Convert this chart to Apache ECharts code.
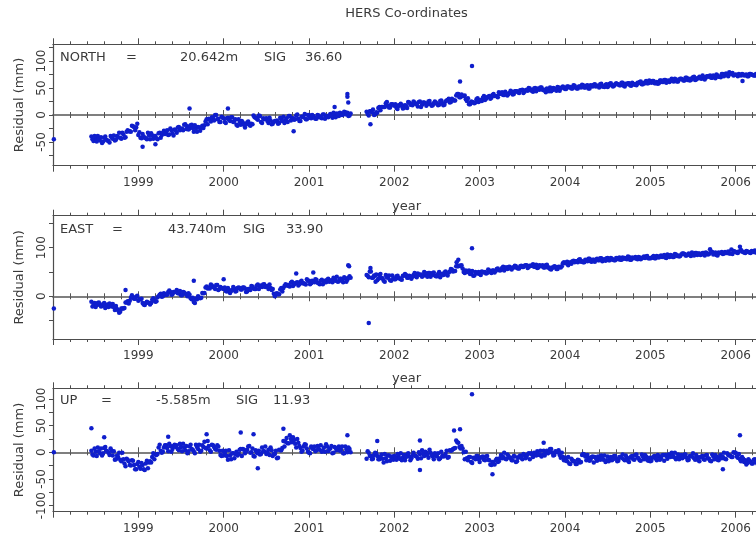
<!DOCTYPE html>
<html><head><meta charset="utf-8">
<script src="https://cdn.jsdelivr.net/npm/echarts@6/dist/echarts.min.js"></script>
<style>html,body{margin:0;padding:0;background:#fff}#c{width:756px;height:535px}</style>
</head><body><div id="c"></div>
<script>
// Observation epochs (decimal year), first set
const dates = [
 1998.450,1998.475,1998.500,1998.525,1998.550,1998.575,1998.600,1998.625,1998.650,1998.675,1998.700,1998.725,1998.750,1998.775,1998.800,1998.825,1998.850,1998.875,1998.900,1998.925,1998.950,1998.975,
 1999.000,1999.025,1999.050,1999.075,1999.100,1999.125,1999.150,1999.175,1999.200,1999.225,1999.250,1999.275,1999.300,1999.325,1999.350,1999.375,1999.400,1999.425,1999.450,1999.475,1999.500,1999.525,1999.550,1999.575,1999.600,1999.625,1999.650,1999.675,1999.700,1999.725,1999.750,1999.775,1999.800,1999.825,1999.850,1999.875,1999.900,1999.925,1999.950,1999.975,
 2000.000,2000.025,2000.050,2000.075,2000.100,2000.125,2000.150,2000.175,2000.200,2000.225,2000.250,2000.275,2000.300,2000.325,2000.350,2000.375,2000.400,2000.425,2000.450,2000.475,2000.500,2000.525,2000.550,2000.575,2000.600,2000.625,2000.650,2000.675,2000.700,2000.725,2000.750,2000.775,2000.800,2000.825,2000.850,2000.875,2000.900,2000.925,2000.950,2000.975,
 2001.000,2001.025,2001.050,2001.075,2001.100,2001.125,2001.150,2001.175,2001.200,2001.225,2001.250,2001.275,2001.300,2001.325,2001.350,2001.375,2001.400,2001.425,2001.450,2001.475,
 2001.675,2001.700,2001.725,2001.750,2001.775,2001.800,2001.825,2001.850,2001.875,2001.900,2001.925,2001.950,2001.975,
 2002.000,2002.025,2002.050,2002.075,2002.100,2002.125,2002.150,2002.175,2002.200,2002.225,2002.250,2002.275,2002.300,2002.325,2002.350,2002.375,2002.400,2002.425,2002.450,2002.475,2002.500,2002.525,2002.550,2002.575,2002.600,2002.625,2002.650,2002.675,2002.700,2002.725,2002.750,2002.775,2002.800,2002.825,2002.850,2002.875,2002.900,2002.925,2002.950,2002.975,
 2003.000,2003.025,2003.050,2003.075,2003.100,2003.125,2003.150,2003.175,2003.200,2003.225,2003.250,2003.275,2003.300,2003.325,2003.350,2003.375,2003.400,2003.425,2003.450,2003.475,2003.500,2003.525,2003.550,2003.575,2003.600,2003.625,2003.650,2003.675,2003.700,2003.725,2003.750,2003.775,2003.800,2003.825,2003.850,2003.875,2003.900,2003.925,2003.950,2003.975,
 2004.000,2004.025,2004.050,2004.075,2004.100,2004.125,2004.150,2004.175,2004.200,2004.225,2004.250,2004.275,2004.300,2004.325,2004.350,2004.375,2004.400,2004.425,2004.450,2004.475,2004.500,2004.525,2004.550,2004.575,2004.600,2004.625,2004.650,2004.675,2004.700,2004.725,2004.750,2004.775,2004.800,2004.825,2004.850,2004.875,2004.900,2004.925,2004.950,2004.975,
 2005.000,2005.025,2005.050,2005.075,2005.100,2005.125,2005.150,2005.175,2005.200,2005.225,2005.250,2005.275,2005.300,2005.325,2005.350,2005.375,2005.400,2005.425,2005.450,2005.475,2005.500,2005.525,2005.550,2005.575,2005.600,2005.625,2005.650,2005.675,2005.700,2005.725,2005.750,2005.775,2005.800,2005.825,2005.850,2005.875,2005.900,2005.925,2005.950,2005.975,
 2006.000,2006.025,2006.050,2006.075,2006.100,2006.125,2006.150,2006.175,2006.200,2006.225,2006.250,2006.275,2006.300,2006.325,2006.350
];
// Observation epochs, second (interleaved) set
const dates2 = [
 1998.4625,1998.4875,1998.5125,1998.5375,1998.5625,1998.5875,1998.6125,1998.6375,1998.6625,1998.6875,1998.7125,1998.7375,1998.7625,1998.7875,1998.8125,1998.8375,1998.8625,1998.8875,1998.9125,1998.9375,1998.9625,1998.9875,
 1999.0125,1999.0375,1999.0625,1999.0875,1999.1125,1999.1375,1999.1625,1999.1875,1999.2125,1999.2375,1999.2625,1999.2875,1999.3125,1999.3375,1999.3625,1999.3875,1999.4125,1999.4375,1999.4625,1999.4875,1999.5125,1999.5375,1999.5625,1999.5875,1999.6125,1999.6375,1999.6625,1999.6875,1999.7125,1999.7375,1999.7625,1999.7875,1999.8125,1999.8375,1999.8625,1999.8875,1999.9125,1999.9375,1999.9625,1999.9875,
 2000.0125,2000.0375,2000.0625,2000.0875,2000.1125,2000.1375,2000.1625,2000.1875,2000.2125,2000.2375,2000.2625,2000.2875,2000.3125,2000.3375,2000.3625,2000.3875,2000.4125,2000.4375,2000.4625,2000.4875,2000.5125,2000.5375,2000.5625,2000.5875,2000.6125,2000.6375,2000.6625,2000.6875,2000.7125,2000.7375,2000.7625,2000.7875,2000.8125,2000.8375,2000.8625,2000.8875,2000.9125,2000.9375,2000.9625,2000.9875,
 2001.0125,2001.0375,2001.0625,2001.0875,2001.1125,2001.1375,2001.1625,2001.1875,2001.2125,2001.2375,2001.2625,2001.2875,2001.3125,2001.3375,2001.3625,2001.3875,2001.4125,2001.4375,2001.4625,2001.4875,
 2001.6875,2001.7125,2001.7375,2001.7625,2001.7875,2001.8125,2001.8375,2001.8625,2001.8875,2001.9125,2001.9375,2001.9625,2001.9875,
 2002.0125,2002.0375,2002.0625,2002.0875,2002.1125,2002.1375,2002.1625,2002.1875,2002.2125,2002.2375,2002.2625,2002.2875,2002.3125,2002.3375,2002.3625,2002.3875,2002.4125,2002.4375,2002.4625,2002.4875,2002.5125,2002.5375,2002.5625,2002.5875,2002.6125,2002.6375,2002.6625,2002.6875,2002.7125,2002.7375,2002.7625,2002.7875,2002.8125,2002.8375,2002.8625,2002.8875,2002.9125,2002.9375,2002.9625,2002.9875,
 2003.0125,2003.0375,2003.0625,2003.0875,2003.1125,2003.1375,2003.1625,2003.1875,2003.2125,2003.2375,2003.2625,2003.2875,2003.3125,2003.3375,2003.3625,2003.3875,2003.4125,2003.4375,2003.4625,2003.4875,2003.5125,2003.5375,2003.5625,2003.5875,2003.6125,2003.6375,2003.6625,2003.6875,2003.7125,2003.7375,2003.7625,2003.7875,2003.8125,2003.8375,2003.8625,2003.8875,2003.9125,2003.9375,2003.9625,2003.9875,
 2004.0125,2004.0375,2004.0625,2004.0875,2004.1125,2004.1375,2004.1625,2004.1875,2004.2125,2004.2375,2004.2625,2004.2875,2004.3125,2004.3375,2004.3625,2004.3875,2004.4125,2004.4375,2004.4625,2004.4875,2004.5125,2004.5375,2004.5625,2004.5875,2004.6125,2004.6375,2004.6625,2004.6875,2004.7125,2004.7375,2004.7625,2004.7875,2004.8125,2004.8375,2004.8625,2004.8875,2004.9125,2004.9375,2004.9625,2004.9875,
 2005.0125,2005.0375,2005.0625,2005.0875,2005.1125,2005.1375,2005.1625,2005.1875,2005.2125,2005.2375,2005.2625,2005.2875,2005.3125,2005.3375,2005.3625,2005.3875,2005.4125,2005.4375,2005.4625,2005.4875,2005.5125,2005.5375,2005.5625,2005.5875,2005.6125,2005.6375,2005.6625,2005.6875,2005.7125,2005.7375,2005.7625,2005.7875,2005.8125,2005.8375,2005.8625,2005.8875,2005.9125,2005.9375,2005.9625,2005.9875,
 2006.0125,2006.0375,2006.0625,2006.0875,2006.1125,2006.1375,2006.1625,2006.1875,2006.2125,2006.2375,2006.2625,2006.2875,2006.3125,2006.3375,2006.3625
];

// NORTH residuals (mm)
const north = [
 -40,-48,-43,-39,-47,-52,-42,-46,-48,-39,-44,-47,-39,-33,-44,-36,-41,-28,-30,-20,-22,-23,
 -37,-42,-35,-42,-45,-38,-34,-44,-39,-45,-33,-37,-29,-33,-37,-25,-34,-27,-33,-22,-26,-28,-17,-21,-25,-18,-31,-25,-22,-29,-20,-19,-8,-7,-12,-6,0,-8,-13,-3,
 -6,-15,-5,-11,-4,-11,-18,-8,-18,-14,-23,-14,-18,-16,-1,-5,-9,-2,-15,-8,-6,-15,-10,-16,-11,-10,-15,-9,-3,-10,-13,-2,-6,-9,-1,-7,-11,-3,2,-8,
 0,-6,-2,-7,0,-4,-6,1,-2,-4,2,-5,0,3,-2,3,1,5,4,-1,
 6,-1,7,10,1,4,15,15,15,22,17,14,20,
 17,13,18,21,12,18,13,23,20,25,21,16,25,19,23,17,25,20,18,25,21,19,27,18,25,28,23,30,27,36,39,33,35,36,26,20,25,23,23,31,
 28,26,35,30,34,30,37,35,35,42,40,37,43,36,41,43,39,44,42,46,47,43,47,50,46,43,50,48,47,51,46,42,47,51,46,49,45,51,49,53,
 48,53,51,49,55,51,49,53,56,51,54,49,55,53,57,54,51,58,53,56,52,58,55,54,59,57,55,60,53,57,59,54,58,57,60,61,57,60,63,59,
 61,63,59,61,59,64,61,65,63,61,67,62,66,62,67,66,64,69,67,65,70,65,68,71,67,70,69,72,73,69,71,75,71,70,76,75,74,79,76,73,
 75,72,74,76,73,75,72,76,74,73,75,77,74,73,76
];
const north2 = [
 -45,-39,-49,-44,-41,-49,-40,-47,-51,-42,-38,-46,-41,-42,-33,-42,-31,-30,-31,-21,-28,-16,
 -32,-43,-40,-43,-33,-45,-38,-39,-43,-34,-42,-33,-35,-28,-36,-28,-38,-28,-23,-28,-25,-18,-26,-27,-19,-24,-19,-31,-23,-23,-24,-12,-17,-9,-4,-10,0,-7,-13,-5,
 -13,-6,-9,-4,-13,-8,-20,-13,-11,-18,-17,-12,-20,-17,-4,-7,-1,-13,-6,-7,-11,-5,-17,-13,-11,-16,-5,-11,-15,-6,-2,-10,-6,-8,1,-11,-3,-4,-8,0,
 -4,0,-5,-7,-1,-4,1,-7,-2,-1,-2,4,-4,2,4,0,6,1,-2,3,
 2,7,5,0,5,13,9,15,15,24,14,20,19,
 20,11,17,18,13,17,24,19,18,23,20,24,15,23,22,20,26,17,22,23,18,26,22,19,27,30,24,28,27,39,33,38,35,29,31,20,24,22,29,24,
 27,32,28,33,35,32,39,35,33,39,42,37,40,39,45,38,44,44,41,46,41,46,45,49,45,49,44,49,51,47,47,49,44,44,50,47,52,45,51,51,
 48,53,52,49,54,49,53,51,55,51,55,49,54,56,53,54,57,53,52,57,54,59,53,57,57,55,60,54,58,59,55,60,56,55,59,62,57,59,59,64,
 60,63,59,58,64,61,65,60,64,64,63,67,62,66,67,64,69,65,64,68,71,66,68,68,73,66,72,71,69,73,68,73,71,76,72,77,72,78,78,74,
 74,76,73,75,74,72,76,75,73,76,74,75,77,74,75
];

// EAST residuals (mm)
const east = [
 -11,-18,-22,-14,-18,-20,-14,-19,-22,-17,-16,-28,-26,-34,-25,-25,-13,-10,-9,2,-5,-1,
 -9,-6,-14,-18,-11,-14,-14,-4,-11,-2,3,-1,6,3,9,9,4,9,13,6,2,9,5,0,3,-6,-12,-5,0,-4,7,7,20,18,24,19,15,23,15,17,
 15,11,17,7,13,16,11,18,14,18,16,10,15,21,16,15,24,21,19,25,20,15,17,15,0,6,4,17,17,25,23,20,30,24,28,22,30,27,26,35,
 32,27,31,35,28,25,34,31,29,36,32,29,36,40,31,36,29,37,34,41,
 44,39,51,38,42,33,44,37,32,44,38,33,43,
 35,41,37,35,42,46,38,42,36,44,41,47,44,40,50,43,48,40,48,43,41,50,46,44,51,43,51,55,52,62,62,63,57,48,50,53,46,42,50,47,
 46,51,49,47,55,50,53,49,56,54,54,61,59,56,61,55,59,62,57,62,60,63,64,60,63,66,61,58,64,62,59,64,59,56,59,62,56,61,59,68,
 68,71,68,67,73,72,70,76,72,70,74,77,72,75,71,77,74,78,75,73,79,74,77,74,79,76,75,80,79,76,81,75,78,81,76,80,78,82,82,78,
 78,81,78,83,80,84,82,80,86,81,84,81,86,84,83,88,87,84,88,83,87,89,85,88,86,89,90,86,97,91,87,85,90,89,87,91,89,88,96,93,
 91,89,102,92,90,93,91,89,92,94,90,92,91,93,90
];
const east2 = [
 -21,-14,-18,-13,-21,-16,-24,-17,-15,-21,-22,-20,-29,-32,-25,-24,-13,-15,-3,-2,-5,1,
 -6,-5,-17,-14,-13,-17,-7,-9,-10,0,5,0,4,3,12,3,9,9,6,11,2,8,4,6,-4,-3,-14,-6,-3,-3,6,18,16,16,22,18,23,13,19,16,
 18,10,13,11,19,10,17,17,14,18,9,15,13,20,15,22,15,22,24,19,21,24,13,5,5,4,14,10,21,22,21,28,21,27,29,25,32,27,24,32,
 25,32,29,34,27,32,25,32,34,30,33,38,32,30,36,34,39,30,38,38,
 42,51,38,43,45,36,46,37,30,39,43,32,37,
 35,42,37,34,42,44,38,41,40,48,39,45,45,42,48,40,48,44,49,41,46,39,46,49,45,49,56,51,52,62,63,64,50,53,50,46,52,43,48,50,
 44,50,50,48,53,48,53,52,57,53,58,53,59,60,57,59,63,58,57,63,60,64,58,63,63,61,65,59,63,64,59,65,59,55,59,61,56,60,62,70,
 69,64,70,72,70,72,75,71,70,75,72,77,71,75,75,74,78,72,76,78,74,79,75,74,78,80,75,77,77,82,75,80,79,77,81,76,80,79,83,78,
 79,83,78,82,82,81,85,79,84,85,81,87,83,82,86,88,84,86,85,90,84,89,88,85,89,84,89,87,91,86,90,84,89,91,88,89,92,88,87,92,
 90,92,95,91,89,92,90,93,91,90,92,89,93,91,92
];

// UP residuals (mm)
const up = [
 3,-6,1,9,-2,-6,8,3,-1,7,-6,-14,-6,-1,-17,-13,-26,-14,-24,-15,-24,-32,
 -18,-31,-24,-33,-16,-19,-19,-2,-4,-3,14,-1,9,13,2,12,6,14,13,4,10,16,4,-2,11,6,2,14,6,1,13,20,7,12,1,13,6,13,3,-7,
 -6,3,-14,-6,-2,-11,1,-3,6,6,-2,5,12,0,-7,4,-2,-4,9,2,-3,5,9,-7,-3,-11,5,4,21,20,17,32,19,23,9,18,8,3,15,7,
 -1,11,6,2,12,5,1,9,15,2,7,-2,10,4,11,5,-2,11,0,6,
 -12,-1,-7,-12,-1,-7,-13,-4,-19,-11,-6,-16,-8,
 -7,-14,-8,-2,-10,-15,-4,-8,-11,-1,-7,-12,-3,4,-7,-1,-10,-1,-8,-2,-8,-13,1,-8,-3,-10,4,4,7,22,18,7,7,-13,-11,-9,-18,-10,-13,-7,
 -18,-9,-14,-8,-14,-23,-18,-23,-12,-17,-5,-9,-12,-4,-10,-15,-7,-18,-10,-6,-13,-5,-9,-2,-2,-9,-3,2,-5,-8,3,0,-2,6,-1,-5,1,4,-10,-9,
 -10,-17,-21,-12,-17,-22,-14,-19,-5,-4,-15,-10,-14,-8,-9,-16,-11,-6,-14,-18,-8,-12,-15,-7,-12,-16,-9,-4,-15,-10,-18,-8,-13,-5,-10,-15,-4,-13,-8,-16,
 -17,-10,-7,-15,-8,-11,-5,-5,-12,-6,-1,-9,-13,-4,-8,-11,-4,-10,-14,-7,-2,-14,-9,-17,-8,-13,-6,-11,-16,-4,-13,-8,-15,-5,-9,-12,-2,-6,-9,0,
 -1,-10,-13,-9,-18,-23,-13,-18,-21,-13,-19,-23,-16,-11,-22
];
const up2 = [
 -4,7,-7,2,7,-2,10,2,-5,3,2,-13,-9,-14,-1,-21,-12,-17,-25,-16,-32,-22,
 -27,-20,-32,-21,-30,-17,-9,-13,-5,9,3,1,13,8,16,1,12,10,6,16,2,9,12,2,14,5,-2,10,14,3,10,8,21,4,14,10,5,11,-5,3,
 -2,-7,4,-13,-2,-3,-6,5,-7,5,2,11,-1,7,-8,0,3,-3,2,11,0,-5,4,-3,3,-10,4,8,11,27,17,25,28,16,25,12,1,11,14,1,
 -2,7,11,4,6,13,3,1,11,6,12,-1,8,7,3,11,-2,5,9,0,
 2,-7,-13,-5,-2,-13,-9,-12,-3,-17,-6,-9,-14,
 -10,-3,-12,-15,-5,-9,-2,-15,-6,-6,-8,0,-11,-3,1,-5,5,-5,-13,-6,-2,-11,-6,-7,3,-9,3,6,8,19,10,12,0,1,-15,-9,-20,-11,-7,-13,
 -10,-8,-15,-7,-15,-24,-22,-15,-18,-11,-11,-1,-13,-7,-10,-15,-8,-17,-8,-10,-3,-11,-4,-13,-4,-1,-6,-4,3,-5,-6,3,0,6,-6,2,0,-5,-1,-15,
 -16,-9,-22,-15,-17,-22,-15,-18,-3,-8,-5,-16,-9,-19,-11,-8,-14,-12,-6,-15,-17,-9,-13,-7,-17,-9,-10,-13,-6,-16,-10,-7,-14,-4,-11,-16,-8,-5,-14,-10,
 -16,-8,-11,-5,-14,-6,-16,-7,-4,-9,-7,-1,-10,-13,-5,-9,-4,-15,-7,-8,-11,-5,-15,-9,-7,-14,-5,-12,-17,-8,-5,-14,-9,-11,-1,-13,-5,-6,-9,-1,
 -8,-3,-17,-12,-15,-20,-16,-21,-14,-19,-24,-16,-20,-17,-21
];

// Isolated points / outliers: [epoch, residual mm]
const northExtra = [[1998.01,-45],[1999.05,-59],[1999.20,-54],[1999.60,12],[2000.05,12],[2000.82,-30],[2001.30,15],[2001.45,39],[2001.45,34],[2001.46,23],[2001.72,-17],[2002.77,62],[2002.91,91],[2006.08,63]];
const eastExtra = [[1998.01,-25],[1998.85,13],[1999.65,32],[2000.00,35],[2000.85,47],[2001.05,49],[2001.46,64],[2001.47,62],[2001.70,-55],[2001.72,58],[2001.78,30],[2002.73,70],[2002.75,75],[2002.91,99]];
const upExtra = [[1998.01,0],[1998.45,45],[1998.60,28],[1999.35,29],[1999.80,34],[2000.20,37],[2000.35,34],[2000.40,-30],[2000.70,44],[2001.45,32],[2001.80,21],[2002.30,22],[2002.30,-33],[2002.70,41],[2002.77,43],[2002.91,109],[2003.15,-41],[2003.75,18],[2005.85,-32],[2006.05,32]];

const labels = ['NORTH','EAST','UP'];
const offsets = ['20.642m','43.740m','-5.585m'];
const sigs = ['36.60','33.90','11.93'];
const yLabelValues = [[-50,0,50,100],[0,100],[-100,-50,0,50,100]];
const yTickValues = [[-75,-50,-25,0,25,50,75,100,125],[-50,0,50,100,150],[-100,-75,-50,-25,0,25,50,75,100]];
const yRanges = [[-93.9,131],[-87.9,165.8],[-111.4,120]];

const seriesValues = [north, east, up];
const seriesValues2 = [north2, east2, up2];
const seriesExtra = [northExtra, eastExtra, upExtra];

// layout
const layout = [
  {top:44.3, height:121.4, textY:59,  eq:126, off:180, sig:264, sv:305},
  {top:215.7, height:123.3, textY:231, eq:112, off:168, sig:243, sv:286},
  {top:388.3, height:123.4, textY:402, eq:101, off:156, sig:236, sv:273}
];
const axisColor = '#4d4d4d';
const textColor = '#3a3a3a';
const dotColor = '#0f1ecc';
const FONT = 'DejaVu Sans';

const grids = [], xAxes = [], yAxes = [], series = [], graphics = [];
layout.forEach((L, i) => {
  grids.push({left:53, width:768, top:L.top, height:L.height, containLabel:false, outerBoundsMode:'none'});
  const base = {gridIndex:i, type:'value', min:1998, max:2007, interval:1, splitLine:{show:false},
                minorSplitLine:{show:false}};
  xAxes.push(Object.assign({}, base, {position:'bottom',
    axisLine:{show:true, onZero:false, lineStyle:{color:axisColor, width:1.2}},
    axisTick:{show:true, inside:false, length:6, lineStyle:{color:axisColor}},
    minorTick:{show:true, splitNumber:5, length:3, lineStyle:{color:axisColor}},
    axisLabel:{show:true, margin:11, color:textColor, fontFamily:FONT, fontSize:12,
      formatter: v => (v > 1998.5 && v < 2006.5) ? String(Math.round(v)) : ''}}));
  xAxes.push(Object.assign({}, base, {position:'top',
    axisLine:{show:true, onZero:false, lineStyle:{color:axisColor, width:1.2}},
    axisTick:{show:true, inside:false, length:6, lineStyle:{color:axisColor}},
    minorTick:{show:true, splitNumber:5, length:3, lineStyle:{color:axisColor}},
    axisLabel:{show:false}}));
  xAxes.push(Object.assign({}, base, {position:'bottom',
    axisLine:{show:true, onZero:true, onZeroAxisIndex:i, lineStyle:{color:'#777', width:1.6}},
    axisTick:{show:true, inside:false, length:5, lineStyle:{color:'#555'}},
    minorTick:{show:true, splitNumber:5, length:3, lineStyle:{color:'#555'}},
    axisLabel:{show:false}}));
  xAxes.push(Object.assign({}, base, {position:'top',
    axisLine:{show:true, onZero:true, onZeroAxisIndex:i, lineStyle:{color:'#777', width:1.6}},
    axisTick:{show:true, inside:false, length:5, lineStyle:{color:'#555'}},
    minorTick:{show:true, splitNumber:5, length:3, lineStyle:{color:'#555'}},
    axisLabel:{show:false}}));
  yAxes.push({gridIndex:i, type:'value', position:'left', min:yRanges[i][0], max:yRanges[i][1],
    splitLine:{show:false},
    axisLine:{show:true, onZero:false, lineStyle:{color:axisColor, width:1.2}},
    axisTick:{show:true, inside:false, length:4, customValues:yTickValues[i], lineStyle:{color:axisColor}},
    axisLabel:{show:true, customValues:yLabelValues[i], rotate:90, margin:5, color:textColor, fontFamily:FONT, fontSize:12},
    name:'Residual (mm)', nameLocation:'middle', nameRotate:90, nameGap:27,
    nameTextStyle:{color:textColor, fontFamily:FONT, fontSize:13}});
  const pts = dates.map((d, k) => [d, seriesValues[i][k]])
    .concat(dates2.map((d, k) => [d, seriesValues2[i][k]]))
    .concat(seriesExtra[i]);
  series.push({type:'scatter', xAxisIndex:i*4, yAxisIndex:i, data:pts, symbol:'circle', symbolSize:4.5,
    itemStyle:{color:dotColor, opacity:1}, silent:true, z:5});
  const ts = {fill:textColor, font:'13px "' + FONT + '"', textVerticalAlign:'middle'};
  graphics.push({type:'text', left:60, top:L.textY-8, style:Object.assign({text:labels[i]}, ts)});
  graphics.push({type:'text', left:L.eq, top:L.textY-8, style:Object.assign({text:'='}, ts)});
  graphics.push({type:'text', left:L.off, top:L.textY-8, style:Object.assign({text:offsets[i]}, ts)});
  graphics.push({type:'text', left:L.sig, top:L.textY-8, style:Object.assign({text:'SIG'}, ts)});
  graphics.push({type:'text', left:L.sv, top:L.textY-8, style:Object.assign({text:sigs[i]}, ts)});
});
graphics.push({type:'text', x:406.5, y:14, style:{text:'HERS Co-ordinates', fill:textColor, font:'13px "' + FONT + '"', textAlign:'center', textVerticalAlign:'middle'}});
graphics.push({type:'text', x:406.5, y:207, style:{text:'year', fill:textColor, font:'13px "' + FONT + '"', textAlign:'center', textVerticalAlign:'middle'}});
graphics.push({type:'text', x:406.5, y:379, style:{text:'year', fill:textColor, font:'13px "' + FONT + '"', textAlign:'center', textVerticalAlign:'middle'}});

const chart = echarts.init(document.getElementById('c'), null, {renderer:'canvas'});
chart.setOption({
  animation:false,
  backgroundColor:'#ffffff',
  grid:grids, xAxis:xAxes, yAxis:yAxes, series:series, graphic:graphics
});
</script></body></html>
